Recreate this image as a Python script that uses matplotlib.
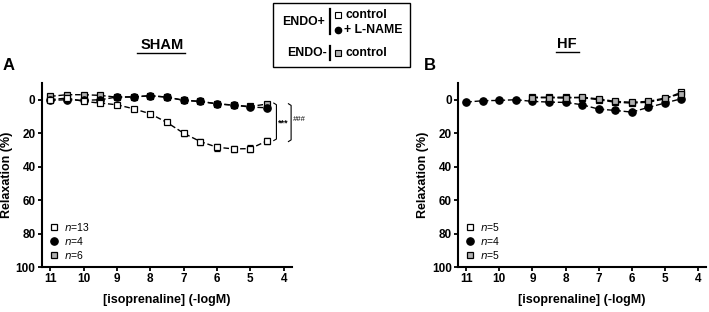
import matplotlib
matplotlib.use("Agg")
import matplotlib.pyplot as plt
import numpy as np

plt.rcParams['font.family'] = ['Liberation Sans', 'DejaVu Sans']

# ---- data ----
x_all = [11, 10.5, 10, 9.5, 9, 8.5, 8, 7.5, 7, 6.5, 6, 5.5, 5, 4.5]
x_late = [9, 8.5, 8, 7.5, 7, 6.5, 6, 5.5, 5, 4.5]

sham_ctrl = [0, -1, 1, 2, 3, 5.4, 8.4, 13.6, 20, 25, 28.4, 29.4, 29.2, 24.6]
sham_ctrl_err = [0.5, 0.5, 0.5, 0.5, 0.6, 0.8, 1.0, 1.2, 1.5, 1.8, 2.0, 2.0, 2.0, 2.0]
sham_lname = [0.4, 0, 0.4, 0, -1.6, -1.6, -2.4, -1.6, 0.4, 1.0, 2.4, 3.2, 4.4, 4.8]
sham_lname_err = [0.8] * 14
sham_endo = [-2, -3, -3, -2.6, -1.5, -1.8, -2.4, -1.5, 0.3, 1.0, 2.5, 3.3, 4.0, 2.6]
sham_endo_err = [0.8] * 14

hf_lname = [1.4, 0.6, 0.4, 0, 1.0, 1.4, 1.6, 3.0, 5.6, 6.4, 7.4, 4.6, 2.0, -0.6]
hf_lname_err = [0.8] * 14
hf_ctrl = [-1.5, -1.5, -1.5, -1.2, 0, 1.5, 2.0, 1.5, -0.5, -4.5]
hf_ctrl_err = [0.8] * 10
hf_endo = [-1.2, -1.2, -1.0, -1.5, -0.5, 1.0, 1.5, 1.0, -1.0, -3.5]
hf_endo_err = [0.8] * 10

n_sham = ["13", "4", "6"]
n_hf = ["5", "4", "5"]

xticks = [11, 10, 9, 8, 7, 6, 5, 4]
yticks = [0, 20, 40, 60, 80, 100]

fig = plt.figure(figsize=(7.09, 3.12), dpi=100)
axA = fig.add_axes([0.059, 0.144, 0.353, 0.59])
axB = fig.add_axes([0.646, 0.144, 0.350, 0.59])

ls = dict(color='black', linestyle=(0, (4, 2)), linewidth=1.0, capsize=2,
          elinewidth=0.8, capthick=0.8, ecolor='black')


def style(ax):
    ax.set_xlim(11.25, 3.75)
    ax.set_ylim(100, -10)
    ax.set_xticks(xticks)
    ax.set_yticks(yticks)
    for s in ['top', 'right']:
        ax.spines[s].set_visible(False)
    for s in ['left', 'bottom']:
        ax.spines[s].set_linewidth(1.5)
    ax.tick_params(width=1.3, length=3, labelsize=8.5, pad=1.5)
    for t in ax.get_xticklabels() + ax.get_yticklabels():
        t.set_fontweight('bold')
    ax.set_xlabel('[isoprenaline] (-logM)', fontsize=9, fontweight='bold', labelpad=6)
    ax.set_ylabel('Relaxation (%)', fontsize=9, fontweight='bold', labelpad=2)


def leg(ax, ns):
    ys = [76, 84.2, 93]
    mk = [('s', 'white'), ('o', 'black'), ('s', '#b0b0b0')]
    for y, (m, fc), n in zip(ys, mk, ns):
        ax.plot([10.9], [y], marker=m, ms=4.8 if m == 's' else 5.3, mfc=fc,
                mec='black', mew=0.9, linestyle='none')
        ax.text(10.6, y, r'$\it{n}$=' + n, fontsize=7.5, va='center', ha='left')


# Panel A
axA.errorbar(x_all, sham_endo, yerr=sham_endo_err, marker='s', ms=4.8, mfc='#b0b0b0',
             mec='black', mew=0.9, zorder=2, **ls)
axA.errorbar(x_all, sham_lname, yerr=sham_lname_err, marker='o', ms=5.3, mfc='black',
             mec='black', mew=0.9, zorder=3, **ls)
axA.errorbar(x_all, sham_ctrl, yerr=sham_ctrl_err, marker='s', ms=4.8, mfc='white',
             mec='black', mew=0.9, zorder=4, **ls)
style(axA)
leg(axA, n_sham)

# brackets
axA.plot([4.3, 4.22, 4.22, 4.3], [2, 3, 23.5, 24.4], color='black', lw=0.8, clip_on=False)
axA.text(4.17, 14, '***', fontsize=6.5, ha='left', va='center', fontweight='bold')
axA.plot([3.86, 3.78, 3.78, 3.86], [2.4, 3.4, 24, 25], color='black', lw=0.8, clip_on=False)
axA.text(3.72, 12, '###', fontsize=5.5, ha='left', va='center', style='italic')

# Panel B
axB.errorbar(x_all, hf_lname, yerr=hf_lname_err, marker='o', ms=5.3, mfc='black',
             mec='black', mew=0.9, zorder=3, **ls)
axB.errorbar(x_late, hf_ctrl, yerr=hf_ctrl_err, marker='s', ms=4.8, mfc='white',
             mec='black', mew=0.9, zorder=2, **ls)
axB.errorbar(x_late, hf_endo, yerr=hf_endo_err, marker='s', ms=4.8, mfc='#b0b0b0',
             mec='black', mew=0.9, zorder=4, **ls)
style(axB)
leg(axB, n_hf)

# Titles and panel labels
fig.text(0.2285, 1 - 45 / 312, 'SHAM', fontsize=10.5, fontweight='bold', ha='center', va='center')
fig.add_artist(plt.Line2D([137 / 709, 185 / 709], [1 - 53 / 312, 1 - 53 / 312], color='black', lw=1.0))
fig.text(567 / 709, 1 - 44 / 312, 'HF', fontsize=10.5, fontweight='bold', ha='center', va='center')
fig.add_artist(plt.Line2D([556 / 709, 579 / 709], [1 - 52 / 312, 1 - 52 / 312], color='black', lw=1.0))
fig.text(3 / 709, 1 - 66 / 312, 'A', fontsize=12, fontweight='bold', ha='left', va='center')
fig.text(424 / 709, 1 - 65 / 312, 'B', fontsize=12, fontweight='bold', ha='left', va='center')

# Top legend box
fig.add_artist(plt.Rectangle((273 / 709, 1 - 67 / 312), 137 / 709, 64 / 312, fill=False,
                             edgecolor='black', lw=1.0, transform=fig.transFigure))
fig.text(325 / 709, 1 - 22 / 312, 'ENDO+', fontsize=8.8, fontweight='bold', ha='right', va='center')
fig.add_artist(plt.Line2D([330 / 709, 330 / 709], [1 - 9 / 312, 1 - 34 / 312], color='black', lw=1.6))
fig.add_artist(plt.Line2D([338 / 709], [1 - 15 / 312], marker='s', ms=4, mfc='white', mec='black', mew=0.8))
fig.text(346 / 709, 1 - 15 / 312, 'control', fontsize=8.8, fontweight='bold', ha='left', va='center')
fig.add_artist(plt.Line2D([338 / 709], [1 - 30 / 312], marker='o', ms=4.5, mfc='black', mec='black'))
fig.text(344 / 709, 1 - 30 / 312, '+ L-NAME', fontsize=8.8, fontweight='bold', ha='left', va='center')
fig.text(327 / 709, 1 - 53 / 312, 'ENDO-', fontsize=8.8, fontweight='bold', ha='right', va='center')
fig.add_artist(plt.Line2D([330 / 709, 330 / 709], [1 - 46 / 312, 1 - 60 / 312], color='black', lw=1.6))
fig.add_artist(plt.Line2D([338 / 709], [1 - 53 / 312], marker='s', ms=4, mfc='#b0b0b0', mec='black', mew=0.8))
fig.text(346 / 709, 1 - 53 / 312, 'control', fontsize=8.8, fontweight='bold', ha='left', va='center')

fig.savefig('out.png', dpi=100)
